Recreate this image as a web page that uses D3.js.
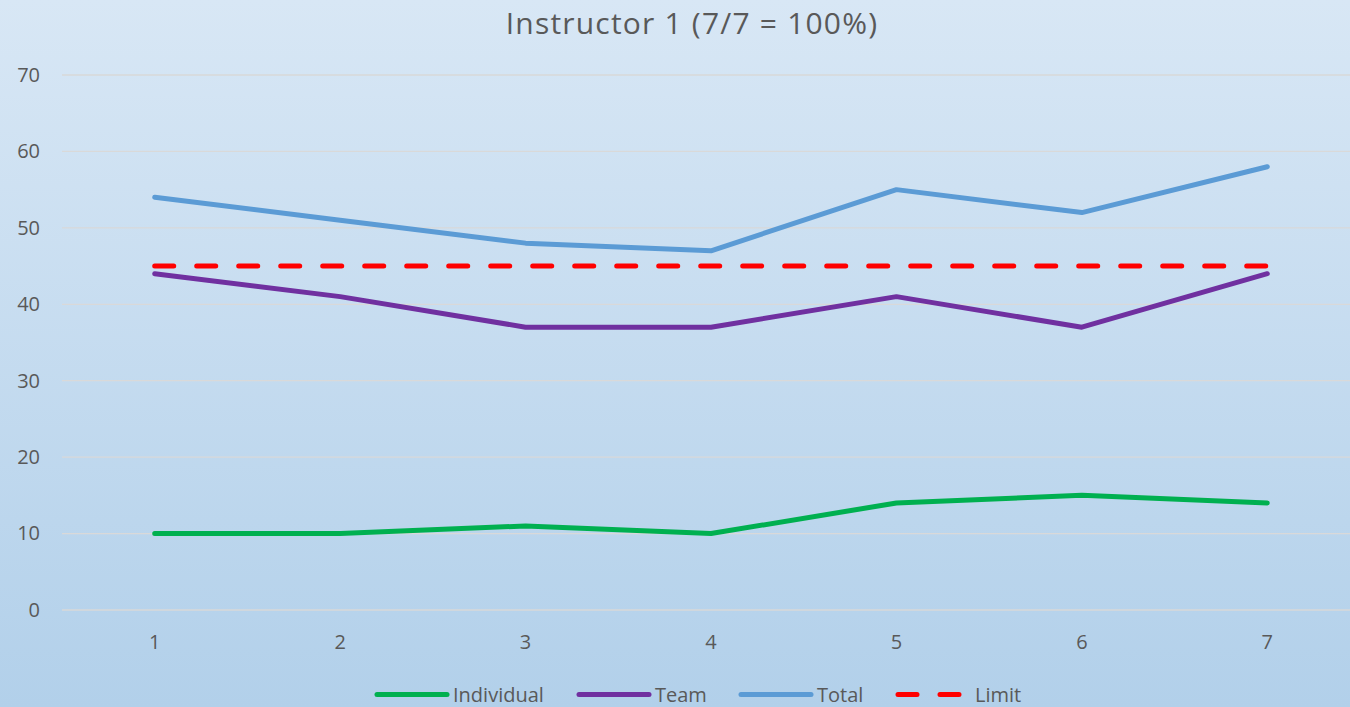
<!DOCTYPE html>
<html>
<head>
<meta charset="utf-8">
<script src="https://cdn.jsdelivr.net/npm/d3@7"></script>
<style>
  html, body { margin: 0; padding: 0; }
  body { width: 1350px; height: 707px; overflow: hidden; }
  text { font-family: "Open Sans", sans-serif; fill: #595959; }
</style>
</head>
<body>
<div id="chart"></div>
<script>
var title = "Instructor 1 (7/7 = 100%)";
var categories = [1, 2, 3, 4, 5, 6, 7];
var individual = [10, 10, 11, 10, 14, 15, 14];
var team = [44, 41, 37, 37, 41, 37, 44];
var total = [54, 51, 48, 47, 55, 52, 58];
var limit = [45, 45, 45, 45, 45, 45, 45];
var yTicks = [0, 10, 20, 30, 40, 50, 60, 70];

var series = [
    {name: "Individual", values: individual, color: "#00b050", dash: null},
    {name: "Team", values: team, color: "#7030a0", dash: null},
    {name: "Total", values: total, color: "#5b9bd5", dash: null},
    {name: "Limit", values: limit, color: "#ff0000", dash: "19,23"}
];

var width = 1350, height = 707;
var fontFamily = "'Open Sans', sans-serif";

var svg = d3.select("#chart").append("svg")
    .attr("width", width)
    .attr("height", height);

var grad = svg.append("defs").append("linearGradient")
    .attr("id", "bg")
    .attr("x1", 0).attr("y1", 0).attr("x2", 0).attr("y2", 1);
grad.append("stop").attr("offset", "0%").attr("stop-color", "#d8e7f5");
grad.append("stop").attr("offset", "100%").attr("stop-color", "#b2d0ea");

svg.append("rect")
    .attr("width", width)
    .attr("height", height)
    .attr("fill", "url(#bg)");

var x = d3.scaleBand()
    .domain(categories)
    .range([62, 1360]);

var y = d3.scaleLinear()
    .domain([0, 70])
    .range([610, 75]);

function cx(d) { return x(d) + x.bandwidth() / 2; }

// gridlines
svg.append("g")
    .selectAll("line")
    .data(yTicks)
    .enter()
    .append("line")
    .attr("x1", 62)
    .attr("x2", width)
    .attr("y1", function(d){ return y(d); })
    .attr("y2", function(d){ return y(d); })
    .attr("stroke", "#d9d9d9")
    .attr("stroke-width", 1.3);

// y axis labels
var yAxis = svg.append("g")
    .attr("transform", "translate(40,0)")
    .call(d3.axisLeft(y).tickValues(yTicks).tickSize(0).tickPadding(0));
yAxis.select(".domain").remove();
yAxis.selectAll("text")
    .attr("font-size", "20px")
    .attr("fill", "#595959")
    .style("font-family", fontFamily);

// x axis labels
var xAxis = svg.append("g")
    .attr("transform", "translate(0,632)")
    .call(d3.axisBottom(x).tickSize(0).tickPadding(3));
xAxis.select(".domain").remove();
xAxis.selectAll("text")
    .attr("font-size", "20px")
    .attr("fill", "#595959")
    .style("font-family", fontFamily);

var line = d3.line()
    .x(function(d, i){ return cx(categories[i]); })
    .y(function(d){ return y(d); });

svg.append("g")
    .selectAll("path")
    .data(series)
    .enter()
    .append("path")
    .attr("d", function(d){ return line(d.values); })
    .attr("fill", "none")
    .attr("stroke", function(d){ return d.color; })
    .attr("stroke-width", 5)
    .attr("stroke-linecap", "round")
    .attr("stroke-linejoin", "round")
    .attr("stroke-dasharray", function(d){ return d.dash; });

// title
svg.append("text")
    .attr("x", 692)
    .attr("y", 34)
    .attr("text-anchor", "middle")
    .attr("font-size", "30px")
    .attr("letter-spacing", "1.2px")
    .text(title);

// legend
var legendX = [377, 579, 741, 898];
var lg = svg.append("g")
    .selectAll("g")
    .data(series)
    .enter()
    .append("g")
    .attr("transform", function(d, i){ return "translate(" + legendX[i] + ",694.5)"; });

lg.append("line")
    .attr("x1", 0)
    .attr("x2", function(d){ return d.dash ? 63 : 70; })
    .attr("y1", 0)
    .attr("y2", 0)
    .attr("stroke", function(d){ return d.color; })
    .attr("stroke-width", 5)
    .attr("stroke-linecap", "round")
    .attr("stroke-dasharray", function(d){ return d.dash; });

lg.append("text")
    .attr("x", function(d){ return d.dash ? 77 : 76; })
    .attr("y", 7)
    .attr("font-size", "20px")
    .text(function(d){ return d.name; });
</script>
</body>
</html>
